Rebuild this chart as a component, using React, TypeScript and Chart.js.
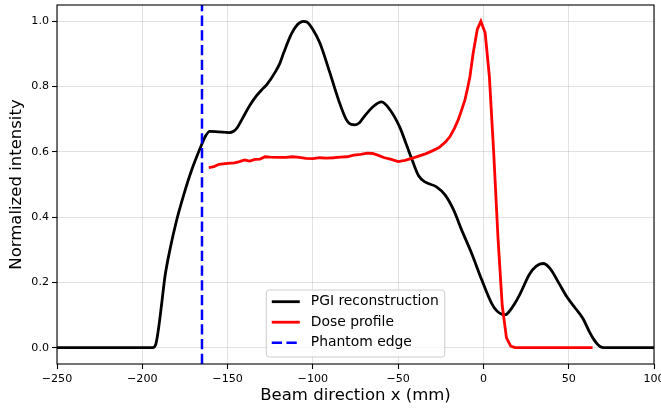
import React, { useEffect, useRef } from 'react';
import { Chart, registerables } from 'chart.js';
Chart.register(...registerables);

const pgiX = [-250, -194, -192, -190.6, -188.6, -186.7, -183.8, -179.8, -176, -171, -166, -163, -160.5, -155, -149, -146.5, -144.5, -141, -137, -133, -130, -127, -122, -119.3, -117, -112.5, -109, -105.6, -103.5, -100, -96, -90, -85, -80.3, -77.5, -75.3, -72.5, -70.5, -64.6, -59.7, -54.8, -49, -45, -42, -38, -34, -27.5, -22.5, -17.5, -12.8, -7, -1, 4.8, 8, 11, 13, 15, 18, 21.5, 27, 31, 35, 39, 44, 49, 54, 58.5, 62, 64.5, 67, 69.5, 72, 100];
const pgiY = [0, 0, 0.012, 0.054, 0.136, 0.218, 0.3, 0.392, 0.463, 0.545, 0.612, 0.648, 0.663, 0.661, 0.659, 0.663, 0.673, 0.705, 0.742, 0.772, 0.79, 0.806, 0.845, 0.872, 0.905, 0.962, 0.99, 1.0, 0.998, 0.975, 0.935, 0.842, 0.76, 0.698, 0.684, 0.683, 0.69, 0.704, 0.739, 0.753, 0.729, 0.675, 0.62, 0.578, 0.527, 0.507, 0.493, 0.468, 0.422, 0.361, 0.29, 0.208, 0.136, 0.112, 0.102, 0.101, 0.11, 0.132, 0.165, 0.225, 0.25, 0.258, 0.243, 0.2, 0.155, 0.12, 0.088, 0.05, 0.027, 0.01, 0.001, 0, 0];

const doseX = [-161, -158, -155, -150, -146, -143, -140, -137, -134, -131, -128, -125, -120, -116, -112, -108, -104, -100, -96, -92, -88, -84, -80, -76, -72, -68, -65, -62, -58, -54, -50, -46, -42, -38, -34, -30, -26, -22, -19.6, -17, -14.8, -12.8, -10.8, -9.3, -7.9, -6, -3.6, -1.5, 1, 3.5, 6, 8.5, 11, 13.5, 16, 18.5, 64];
const doseY = [0.552, 0.555, 0.562, 0.565, 0.566, 0.57, 0.575, 0.572, 0.577, 0.578, 0.585, 0.584, 0.583, 0.583, 0.585, 0.583, 0.58, 0.579, 0.582, 0.581, 0.582, 0.584, 0.585, 0.59, 0.592, 0.596, 0.595, 0.59, 0.582, 0.577, 0.57, 0.574, 0.58, 0.587, 0.594, 0.603, 0.613, 0.632, 0.647, 0.672, 0.698, 0.728, 0.76, 0.795, 0.831, 0.903, 0.975, 1.0, 0.965, 0.83, 0.6, 0.34, 0.13, 0.03, 0.005, 0, 0];

const edgeX = -165;
const xTicks = [-250, -200, -150, -100, -50, 0, 50, 100];
const yTicks = [0, 0.2, 0.4, 0.6, 0.8, 1.0];
const legendLabels = ['PGI reconstruction', 'Dose profile', 'Phantom edge'];

const FONT = '"DejaVu Sans", sans-serif';

const framePlugin = {
  id: 'frameAndLegend',
  afterDraw(chart: any) {
    const { ctx, chartArea } = chart;
    ctx.save();
    ctx.strokeStyle = '#000';
    ctx.lineWidth = 1.1;
    ctx.strokeRect(chartArea.left, chartArea.top, chartArea.right - chartArea.left, chartArea.bottom - chartArea.top);

    // legend
    ctx.font = `13.9px ${FONT}`;
    const widths = legendLabels.map((l) => ctx.measureText(l).width);
    const maxW = Math.max(...widths);
    const padL = 5.5, handle = 28, gap = 11, padR = 6;
    const boxW = padL + handle + gap + maxW + padR;
    const rowH = 20.5;
    const boxH = 67;
    const cx = (chartArea.left + chartArea.right) / 2;
    const bx = cx - boxW / 2;
    const by = chartArea.bottom - 7 - boxH;
    const r = 3;
    ctx.beginPath();
    ctx.moveTo(bx + r, by);
    ctx.lineTo(bx + boxW - r, by);
    ctx.arcTo(bx + boxW, by, bx + boxW, by + r, r);
    ctx.lineTo(bx + boxW, by + boxH - r);
    ctx.arcTo(bx + boxW, by + boxH, bx + boxW - r, by + boxH, r);
    ctx.lineTo(bx + r, by + boxH);
    ctx.arcTo(bx, by + boxH, bx, by + boxH - r, r);
    ctx.lineTo(bx, by + r);
    ctx.arcTo(bx, by, bx + r, by, r);
    ctx.closePath();
    ctx.fillStyle = 'rgba(255,255,255,0.8)';
    ctx.fill();
    ctx.strokeStyle = '#cccccc';
    ctx.lineWidth = 1;
    ctx.stroke();

    const datasets = chart.data.datasets;
    legendLabels.forEach((label, i) => {
      const ds = datasets[i];
      const y = by + 11.7 + i * rowH;
      ctx.beginPath();
      ctx.strokeStyle = ds.borderColor;
      ctx.lineWidth = ds.borderWidth;
      ctx.setLineDash(ds.borderDash || []);
      ctx.moveTo(bx + padL, y);
      ctx.lineTo(bx + padL + handle, y);
      ctx.stroke();
      ctx.setLineDash([]);
      ctx.fillStyle = '#000';
      ctx.textBaseline = 'middle';
      ctx.textAlign = 'left';
      ctx.fillText(label, bx + padL + handle + gap, y);
    });
    ctx.restore();
  },
};

export default function App() {
  const ref = useRef<HTMLCanvasElement | null>(null);
  useEffect(() => {
    document.body.style.margin = '0';
    const canvas = ref.current;
    if (!canvas) return;
    const chart = new Chart(canvas, {
      type: 'line',
      data: {
        datasets: [
          {
            label: legendLabels[0],
            data: pgiX.map((x, i) => ({ x, y: pgiY[i] })),
            borderColor: '#000000',
            borderWidth: 2.8,
            pointRadius: 0,
            cubicInterpolationMode: 'monotone',
            fill: false,
            order: 2,
          },
          {
            label: legendLabels[1],
            data: doseX.map((x, i) => ({ x, y: doseY[i] })),
            borderColor: '#ff0000',
            borderWidth: 2.8,
            pointRadius: 0,
            tension: 0,
            fill: false,
            order: 1,
          },
          {
            label: legendLabels[2],
            data: [
              { x: edgeX, y: -0.05 },
              { x: edgeX, y: 1.05 },
            ],
            borderColor: '#0000ff',
            borderWidth: 2.5,
            borderDash: [10.3, 4.4],
            pointRadius: 0,
            tension: 0,
            fill: false,
            order: 0,
          },
        ],
      } as any,
      options: {
        animation: false,
        responsive: false,
        devicePixelRatio: 1,
        layout: { padding: { top: 5, right: 7, left: 0, bottom: 0 } },
        plugins: { legend: { display: false }, tooltip: { enabled: false } },
        scales: {
          x: {
            type: 'linear',
            min: -250,
            max: 100,
            afterBuildTicks: (s: any) => {
              s.ticks = xTicks.map((v) => ({ value: v }));
            },
            afterFit: (s: any) => {
              s.height = 44;
              s.paddingLeft = 0;
              s.paddingRight = 0;
            },
            border: { display: false },
            grid: {
              color: 'rgba(176,176,176,0.38)',
              lineWidth: 1,
              tickColor: '#000',
              tickLength: 5,
              tickWidth: 1.1,
            },
            ticks: {
              font: { family: FONT, size: 11.1 },
              color: '#000',
              padding: 3,
              maxRotation: 0,
              callback: (v: any) => String(v).replace('-', '\u2212'),
            },
            title: {
              display: true,
              text: 'Beam direction x (mm)',
              font: { family: FONT, size: 16.5 },
              color: '#000',
              padding: { top: 0, bottom: 2.4 },
            },
          },
          y: {
            type: 'linear',
            min: -0.05,
            max: 1.05,
            afterBuildTicks: (s: any) => {
              s.ticks = yTicks.map((v) => ({ value: v }));
            },
            afterFit: (s: any) => {
              s.width = 57;
              s.paddingTop = 0;
              s.paddingBottom = 0;
            },
            border: { display: false },
            grid: {
              color: 'rgba(176,176,176,0.38)',
              lineWidth: 1,
              tickColor: '#000',
              tickLength: 5,
              tickWidth: 1.1,
            },
            ticks: {
              font: { family: FONT, size: 11.1 },
              color: '#000',
              padding: 3,
              callback: (v: any) => Number(v).toFixed(1),
            },
            title: {
              display: true,
              text: 'Normalized intensity',
              font: { family: FONT, size: 16.5 },
              color: '#000',
              padding: { top: 6.8, bottom: 0 },
            },
          },
        },
      } as any,
      plugins: [framePlugin],
    });
    return () => chart.destroy();
  }, []);
  return (
    <div style={{ width: 661, height: 408 }}>
      <canvas ref={ref} width={661} height={408} style={{ width: 661, height: 408, display: 'block' }} />
    </div>
  );
}
